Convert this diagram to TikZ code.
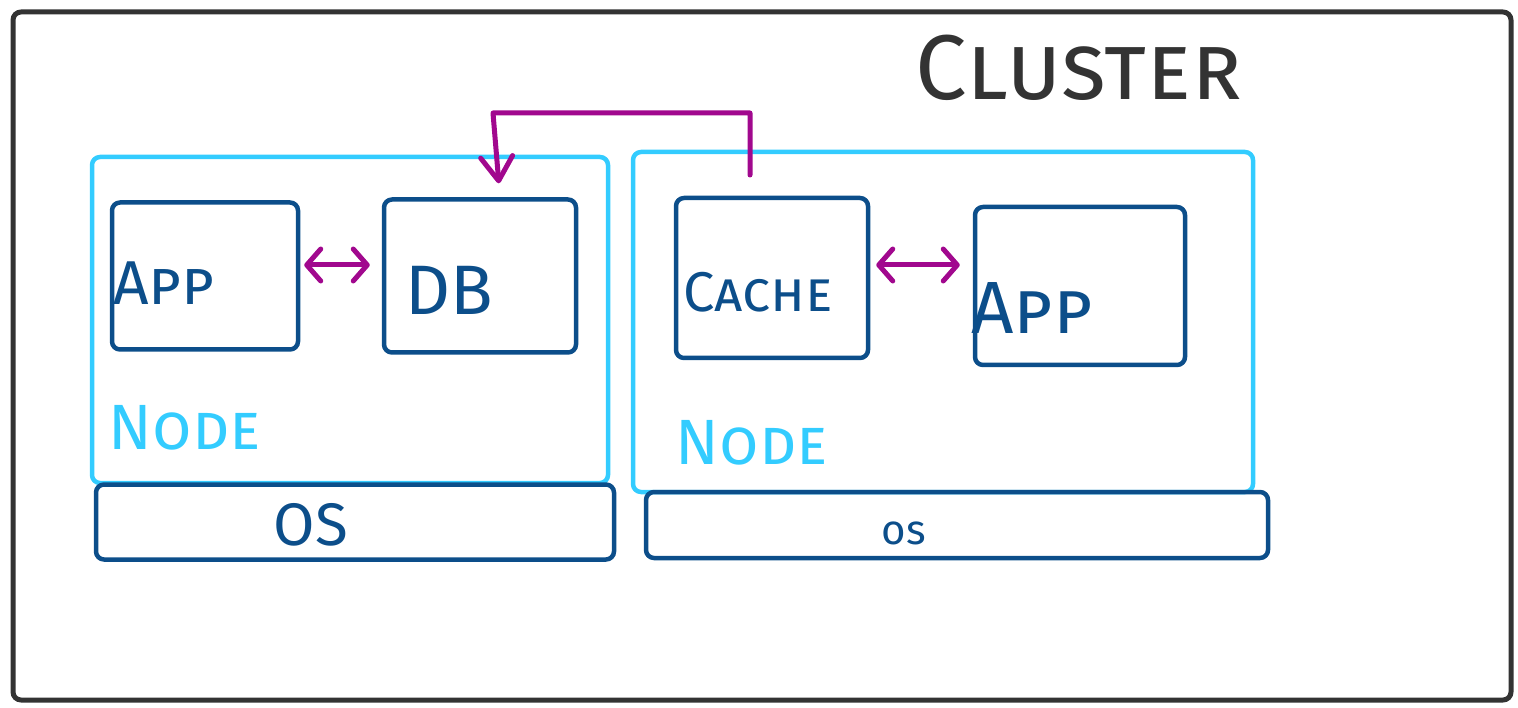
\documentclass[tikz,border=0pt]{standalone}
\usepackage{fontspec}
\setmainfont{Fira Sans}
\usetikzlibrary{arrows.meta,calc}
\definecolor{clgray}{HTML}{333333}
\definecolor{nodeblue}{HTML}{33CCFF}
\definecolor{darkblue}{HTML}{0C4E8A}
\definecolor{magen}{HTML}{A1088E}
\begin{document}
\begin{tikzpicture}[x=1pt,y=-1pt,
  sketch/.style={draw, rectangle, rounded corners=8pt, line width=4.5pt, line join=round, inner sep=0pt},
  clusterbox/.style={sketch, draw=clgray, line width=5pt},
  nodebox/.style={sketch, draw=nodeblue},
  innerbox/.style={sketch, draw=darkblue},
  lbl/.style={inner sep=0pt, font=\scshape},
  barb/.tip={Straight Barb[length=14pt,width=32pt,line cap=round,line join=round]},
  bigbarb/.tip={Straight Barb[length=24pt,width=32pt,line cap=round,line join=round]},
  arr/.style={draw=magen, line width=5pt, line cap=round, line join=round, arrows={-bigbarb}},
  darr/.style={arr, arrows={barb-barb}}
]
\useasboundingbox (0,0) rectangle (1518,708);
% cluster
\node[clusterbox, minimum width=1498pt, minimum height=688pt] (cluster) at (762,356) {};
\node[lbl, text=clgray, font=\fontsize{92}{92}\selectfont\scshape] (clusterlbl) at (1079,68) {Cluster};
% left node
\node[nodebox, minimum width=516pt, minimum height=326pt] (nodeL) at (350,320) {};
\node[innerbox, minimum width=518pt, minimum height=75pt] (osL) at (355,522) {};
\node[innerbox, minimum width=186pt, minimum height=147pt] (appL) at (205,276) {};
\node[innerbox, minimum width=192pt, minimum height=153pt] (db) at (480,276) {};
\node[lbl, text=nodeblue, font=\fontsize{64}{64}\selectfont\scshape] (nodeLlbl) at (185,428) {Node};
\node[lbl, text=darkblue, font=\fontsize{60}{60}\selectfont\scshape] (osLlbl) at (311,525) {OS};
\node[lbl, text=darkblue, font=\fontsize{62}{62}\selectfont\scshape] (appLlbl) at (164,283) {App};
\node[lbl, text=darkblue, font=\fontsize{70}{70}\selectfont\scshape] (dblbl) at (449,290) {DB};
% right node
\node[nodebox, minimum width=620pt, minimum height=340pt] (nodeR) at (943,322) {};
\node[innerbox, minimum width=622pt, minimum height=66pt] (osR) at (957,525) {};
\node[innerbox, minimum width=192pt, minimum height=160pt] (cache) at (772,278) {};
\node[innerbox, minimum width=210pt, minimum height=158pt] (appR) at (1080,286) {};
\node[lbl, text=nodeblue, font=\fontsize{64}{64}\selectfont\scshape] (nodeRlbl) at (752,443) {Node};
\node[lbl, text=darkblue, font=\fontsize{42}{42}\selectfont] (osRlbl) at (904,533) {os};
\node[lbl, text=darkblue, font=\fontsize{56}{56}\selectfont\scshape] (cachelbl) at (758,292) {Cache};
\node[lbl, text=darkblue, font=\fontsize{74}{74}\selectfont\scshape] (appRlbl) at (1032,308) {App};
% connectors
\path ([yshift=11pt]appL.east) coordinate (a1);
\draw[darr, shorten <=4pt, shorten >=12pt] (a1) -- (a1 -| db.west);
\path ([yshift=13pt]cache.east) coordinate (c1);
\draw[darr, shorten <=6pt, shorten >=13pt] (c1) -- (c1 -| appR.west);
\coordinate (s) at (750,175);
\coordinate (top) at (493,113);
\draw[arr, shorten >=14pt] (s) |- (top) -- ([xshift=20pt]db.north);
\end{tikzpicture}
\end{document}
